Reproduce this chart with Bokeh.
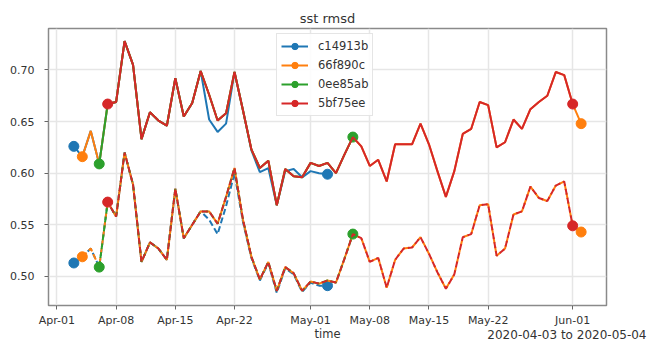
import pandas as pd
from bokeh.plotting import figure
from bokeh.models import (ColumnDataSource, Legend, LegendItem, DaysTicker,
                          DatetimeTickFormatter, NumeralTickFormatter,
                          SingleIntervalTicker, Title)
from bokeh.embed import file_html
from bokeh.resources import INLINE

# ---------------- data ----------------
commits = ["c14913b", "66f890c", "0ee85ab", "5bf75ee"]
colors = ["#1f77b4", "#ff7f0e", "#2ca02c", "#d62728"]
starts = ["2020-04-03", "2020-04-04", "2020-04-06", "2020-04-07"]
ends = ["2020-05-03", "2020-06-02", "2020-05-06", "2020-06-01"]
dash_offsets = [0, 0, 0, 3]

# shared daily values of 66f890c / 0ee85ab / 5bf75ee, 2020-04-04 .. 2020-06-02
main_start = "2020-04-04"
upper_main = [0.616, 0.641, 0.609, 0.667, 0.669, 0.728, 0.705, 0.633, 0.659, 0.651,
              0.646, 0.692, 0.655, 0.668, 0.699, 0.676, 0.651, 0.658, 0.698, 0.661,
              0.623, 0.605, 0.612, 0.569, 0.604, 0.597, 0.596, 0.610, 0.607, 0.610,
              0.600, 0.618, 0.635, 0.626, 0.607, 0.613, 0.592, 0.628, 0.628, 0.628,
              0.648, 0.628, 0.602, 0.577, 0.602, 0.638, 0.643, 0.669, 0.666, 0.625,
              0.630, 0.652, 0.643, 0.662, 0.669, 0.675, 0.698, 0.695, 0.667, 0.648]
lower_main = [0.519, 0.527, 0.509, 0.572, 0.558, 0.620, 0.589, 0.514, 0.533, 0.527,
              0.516, 0.585, 0.537, 0.550, 0.563, 0.563, 0.551, 0.577, 0.605, 0.555,
              0.519, 0.497, 0.514, 0.486, 0.509, 0.503, 0.486, 0.495, 0.493, 0.496,
              0.494, 0.517, 0.541, 0.537, 0.514, 0.518, 0.489, 0.516, 0.527, 0.528,
              0.538, 0.522, 0.504, 0.488, 0.502, 0.538, 0.541, 0.569, 0.570, 0.520,
              0.527, 0.560, 0.563, 0.587, 0.576, 0.573, 0.588, 0.592, 0.549, 0.543]

# c14913b daily values, 2020-04-03 .. 2020-05-03
upper_c14913b = [0.626, 0.616, 0.641, 0.609, 0.667, 0.669, 0.728, 0.705, 0.633, 0.659,
                 0.651, 0.646, 0.692, 0.655, 0.668, 0.699, 0.652, 0.640, 0.648, 0.698,
                 0.661, 0.622, 0.601, 0.605, 0.569, 0.602, 0.604, 0.596, 0.602, 0.600,
                 0.599]
lower_c14913b = [0.513, 0.519, 0.527, 0.509, 0.572, 0.558, 0.620, 0.589, 0.514, 0.533,
                 0.527, 0.516, 0.585, 0.537, 0.550, 0.563, 0.555, 0.541, 0.568, 0.600,
                 0.553, 0.518, 0.496, 0.513, 0.484, 0.508, 0.502, 0.485, 0.494, 0.491,
                 0.491]

title_text = "sst rmsd"
x_label = "time"
range_note = "2020-04-03 to 2020-05-04"

# ---------------- build ----------------
FONT = "DejaVu Sans"
TXT = "#333333"

main_idx = pd.date_range(main_start, periods=len(upper_main), freq="D")
main_df = pd.DataFrame({"upper": upper_main, "lower": lower_main}, index=main_idx)
blue_idx = pd.date_range(starts[0], periods=len(upper_c14913b), freq="D")
blue_df = pd.DataFrame({"upper": upper_c14913b, "lower": lower_c14913b}, index=blue_idx)

p = figure(width=650, height=342, x_axis_type="datetime",
           output_backend="svg", toolbar_location=None,
           min_border_left=48, min_border_right=44,
           min_border_top=28, min_border_bottom=37)
p.background_fill_color = "white"
p.border_fill_color = "white"
p.outline_line_color = "#8a8a8a"
p.outline_line_width = 1.5

items = []
for name, col, s, e, off in zip(commits, colors, starts, ends, dash_offsets):
    df = blue_df if name == "c14913b" else main_df
    sub = df.loc[s:e]
    src = ColumnDataSource(dict(t=sub.index, upper=sub["upper"].values,
                                lower=sub["lower"].values))
    r_up = p.line("t", "upper", source=src, line_color=col, line_width=2)
    p.line("t", "lower", source=src, line_color=col, line_width=2,
           line_dash="6 3", line_dash_offset=off)
    ends_src = ColumnDataSource(dict(
        t=[sub.index[0], sub.index[-1], sub.index[0], sub.index[-1]],
        v=[sub["upper"].iloc[0], sub["upper"].iloc[-1],
           sub["lower"].iloc[0], sub["lower"].iloc[-1]]))
    r_m = p.scatter("t", "v", source=ends_src, size=10, fill_color=col,
                    line_color=col, marker="circle")
    items.append(LegendItem(label=name, renderers=[r_up, r_m]))

legend = Legend(items=items, location=(228, 189),
                label_text_font=FONT, label_text_font_size="11.5px",
                label_text_color=TXT, glyph_width=27, glyph_height=16,
                label_height=16, spacing=3, padding=4, margin=0,
                label_standoff=10, border_line_color="#cccccc",
                border_line_width=1, background_fill_color="white",
                background_fill_alpha=0.85)
p.add_layout(legend, "center")

# title
p.title.text = title_text
p.title.align = "center"
p.title.text_font = FONT
p.title.text_font_size = "13px"
p.title.text_font_style = "normal"
p.title.text_color = TXT
p.title.standoff = 5

# axes
p.xaxis.ticker = DaysTicker(days=[1, 8, 15, 22])
p.xaxis.formatter = DatetimeTickFormatter(days="%b-%d", months="%b-%d")
p.yaxis.ticker = SingleIntervalTicker(interval=0.05)
p.yaxis.formatter = NumeralTickFormatter(format="0.00")
for ax in (p.xaxis[0], p.yaxis[0]):
    ax.axis_line_color = None
    ax.major_tick_line_color = "#666666"
    ax.major_tick_out = 4
    ax.major_tick_in = 0
    ax.minor_tick_line_color = None
    ax.major_label_text_font = FONT
    ax.major_label_text_font_size = "11px"
    ax.major_label_text_color = TXT
p.xaxis.major_label_standoff = 4
p.yaxis.major_label_standoff = 10

p.xgrid.grid_line_color = "#e6e6e6"
p.ygrid.grid_line_color = "#e6e6e6"
p.xgrid.grid_line_width = 1.5
p.ygrid.grid_line_width = 1.5

# x axis label and the date-range note share the last line below the axis
time_title = Title(text=x_label, align="center", vertical_align="bottom",
                   standoff=-10, text_font=FONT, text_font_size="11.5px",
                   text_font_style="normal", text_color=TXT)
note_title = Title(text=range_note, align="right", vertical_align="top",
                   standoff=-16, offset=-40, text_font=FONT,
                   text_font_size="12px", text_font_style="normal",
                   text_color=TXT)
p.add_layout(time_title, "below")
p.add_layout(note_title, "below")

open("out.html", "w").write(file_html(p, INLINE))
